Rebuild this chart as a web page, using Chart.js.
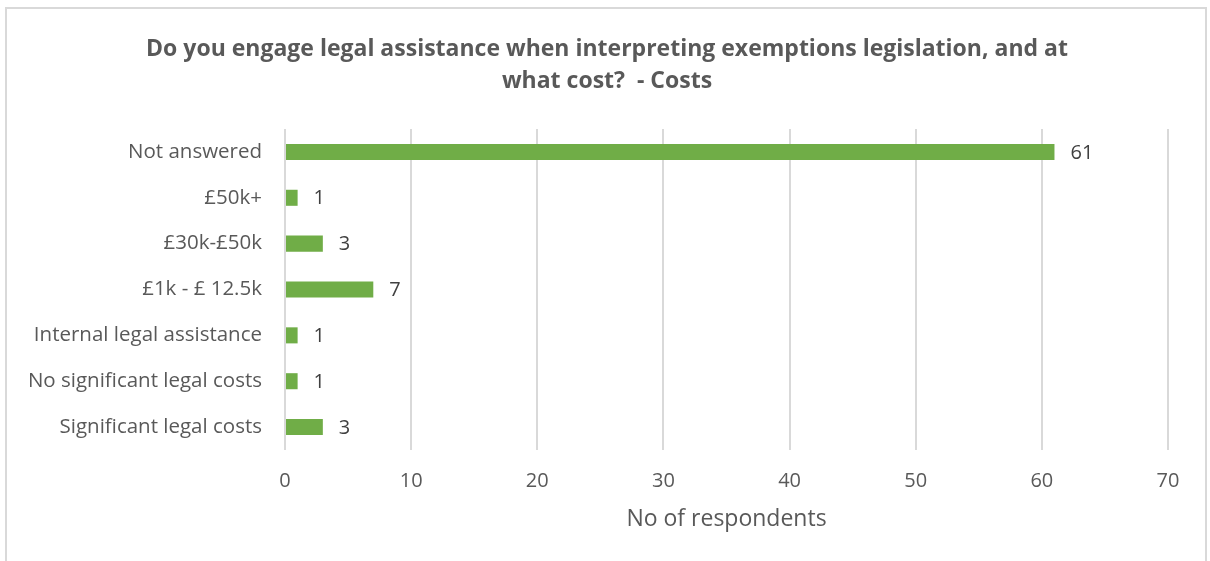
<!DOCTYPE html>
<html>
<head>
<meta charset="utf-8">
<script src="https://cdn.jsdelivr.net/npm/chart.js@4/dist/chart.umd.min.js"></script>
<style>
  html, body { margin: 0; padding: 0; background: #fff; }
  #frame { position: absolute; left: 5px; top: 7px; width: 1202px; height: 570px; border: 2px solid #d9d9d9; box-sizing: border-box; }
  #wrap { position: absolute; left: 0; top: 0; width: 1210px; height: 561px; }
</style>
</head>
<body>
<div id="frame"></div>
<div id="wrap"><canvas id="c" width="1210" height="561"></canvas></div>
<script>
// Survey responses: legal assistance costs when interpreting exemptions legislation
const titleLines = ['Do you engage legal assistance when interpreting exemptions legislation, and at', 'what cost?  - Costs'];
const categories = [
  'Not answered',
  '£50k+',
  '£30k-£50k',
  '£1k - £ 12.5k',
  'Internal legal assistance',
  'No significant legal costs',
  'Significant legal costs'
];
const respondents = [61, 1, 3, 7, 1, 1, 3];
const xTicks = [0, 10, 20, 30, 40, 50, 60, 70];

const FONT = '"Open Sans", Lato, sans-serif';

// Two-line heading centred on the whole canvas
const centredTitle = {
  id: 'centredTitle',
  afterDraw(chart) {
    const ctx = chart.ctx;
    ctx.save();
    ctx.font = 'bold 23px ' + FONT;
    ctx.fillStyle = '#595959';
    ctx.textAlign = 'center';
    ctx.textBaseline = 'middle';
    titleLines.forEach((line, i) => ctx.fillText(line, chart.width / 2 + 2, 49 + i * 32));
    ctx.restore();
  }
};

// Writes each bar's value just past its end
const valueLabels = {
  id: 'valueLabels',
  afterDatasetsDraw(chart) {
    const ctx = chart.ctx;
    const meta = chart.getDatasetMeta(0);
    ctx.save();
    ctx.font = '20px ' + FONT;
    ctx.fillStyle = '#404040';
    ctx.textAlign = 'left';
    ctx.textBaseline = 'middle';
    meta.data.forEach((bar, i) => {
      ctx.fillText(String(respondents[i]), bar.x + 16, bar.y + 1);
    });
    ctx.restore();
  }
};

new Chart(document.getElementById('c'), {
  type: 'bar',
  data: {
    labels: categories,
    datasets: [{
      data: respondents,
      backgroundColor: '#70ad47',
      borderWidth: 0,
      barPercentage: 0.35,
      categoryPercentage: 1.0
    }]
  },
  options: {
    indexAxis: 'y',
    responsive: false,
    animation: false,
    layout: { padding: { left: 0, right: 42, top: 129, bottom: 28 } },
    plugins: {
      legend: { display: false },
      tooltip: { enabled: false },
      title: { display: false }
    },
    scales: {
      x: {
        min: 0,
        max: 70,
        afterBuildTicks(scale) { scale.ticks = xTicks.map(v => ({ value: v })); },
        afterFit(scale) { scale.height = 83; },
        grid: { color: '#d9d9d9', lineWidth: 2, drawTicks: false },
        border: { display: false },
        ticks: { color: '#595959', font: { family: FONT, size: 20 }, padding: 19 },
        title: {
          display: true,
          text: 'No of respondents',
          color: '#595959',
          font: { family: FONT, size: 23 },
          padding: { top: 8, bottom: 0 }
        }
      },
      y: {
        afterFit(scale) { scale.width = 285; },
        grid: { display: false },
        border: { display: false },
        ticks: { color: '#595959', font: { family: FONT, size: 20.5 }, padding: 15 }
      }
    }
  },
  plugins: [valueLabels, centredTitle]
});
</script>
</body>
</html>
